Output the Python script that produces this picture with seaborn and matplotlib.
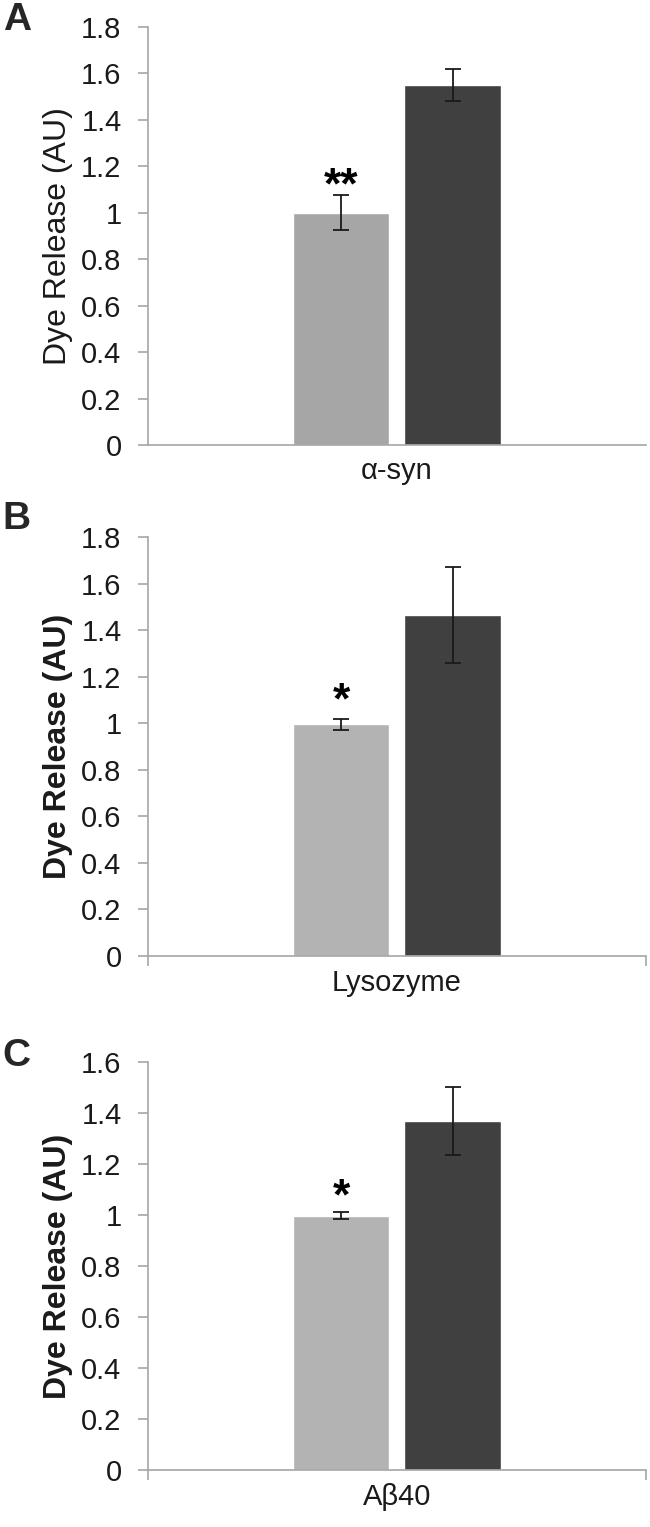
import pandas as pd
import matplotlib.pyplot as plt
import seaborn as sns
from matplotlib.ticker import FuncFormatter

# values (mean, error bar half-width)
conditions = ["Control", "Treated"]
proteins = ["α-syn", "Lysozyme", "Aβ40"]
means_a = [1.0, 1.55]
errs_a = [0.075, 0.07]
means_b = [0.995, 1.465]
errs_b = [0.023, 0.205]
means_c = [0.997, 1.37]
errs_c = [0.013, 0.133]
stars = ["**", "*", "*"]
ymax = [1.8, 1.8, 1.6]

sns.set_style("white")
plt.rcParams['font.family'] = ['Liberation Sans', 'DejaVu Sans']

light_a = "#a6a6a6"
light_bc = "#b3b3b3"
dark = "#404040"
axis_grey = "#a6a6a6"

fig = plt.figure(figsize=(6.5, 15.27), dpi=100)
# axes boxes in figure fractions
boxes = [
    [0.2277, 0.7086, 0.766, 0.2737],
    [0.2277, 0.3739, 0.766, 0.2744],
    [0.2277, 0.0373, 0.766, 0.2672],
]
letters = ["A", "B", "C"]
letter_y = [0.999, 0.672, 0.3205]
panels = [(means_a, errs_a), (means_b, errs_b), (means_c, errs_c)]
star_off = [-2, 4, 2.5]

for i, (means, errs) in enumerate(panels):
    ax = fig.add_axes(boxes[i])
    df = pd.DataFrame({"protein": proteins[i], "condition": conditions,
                       "value": means})
    light = light_a if i == 0 else light_bc
    sns.barplot(data=df, x="protein", y="value", hue="condition",
                palette=[light, dark], width=0.448, gap=0.135,
                saturation=1, legend=False, ax=ax)
    xs = [p.get_x() + p.get_width() / 2 for p in ax.patches]
    ax.errorbar(xs, means, yerr=errs, fmt="none", ecolor="#1a1a1a",
                elinewidth=1.3, capsize=5.8, capthick=1.3, zorder=5)
    ax.annotate(stars[i], (xs[0], means[0] + errs[0]),
                xytext=(0, star_off[i]), textcoords="offset points",
                ha="center", va="baseline", fontsize=32,
                fontweight="bold", color="black")

    ax.set_xlim(-0.5, 0.5)
    ax.set_ylim(0, ymax[i])
    ax.set_yticks([round(0.2 * k, 1) for k in range(int(round(ymax[i] / 0.2)) + 1)])
    ax.yaxis.set_major_formatter(FuncFormatter(lambda v, p: f"{v:g}"))
    sns.despine(ax=ax)
    for s in ["left", "bottom"]:
        ax.spines[s].set_color(axis_grey)
        ax.spines[s].set_linewidth(1.2)
    ax.tick_params(axis="y", direction="out", length=7, width=1.2,
                   color=axis_grey, labelsize=21, pad=12,
                   labelcolor="#1a1a1a", left=True)
    ax.tick_params(axis="x", which="major", length=0, labelsize=21,
                   pad=9, labelcolor="#1a1a1a")
    if i > 0:
        ax.set_xticks([-0.5, 0.5], minor=True)
        ax.tick_params(axis="x", which="minor", direction="out", length=7,
                       width=1.2, color=axis_grey, bottom=True)
    ax.set_xlabel("")
    ax.set_ylabel("Dye Release (AU)", fontsize=23, labelpad=6,
                  fontweight="normal" if i == 0 else "bold",
                  color="#1a1a1a")
    fig.text(0.004, letter_y[i], letters[i], fontsize=28, fontweight="bold",
             ha="left", va="top")

fig.savefig("out.png", dpi=100)
